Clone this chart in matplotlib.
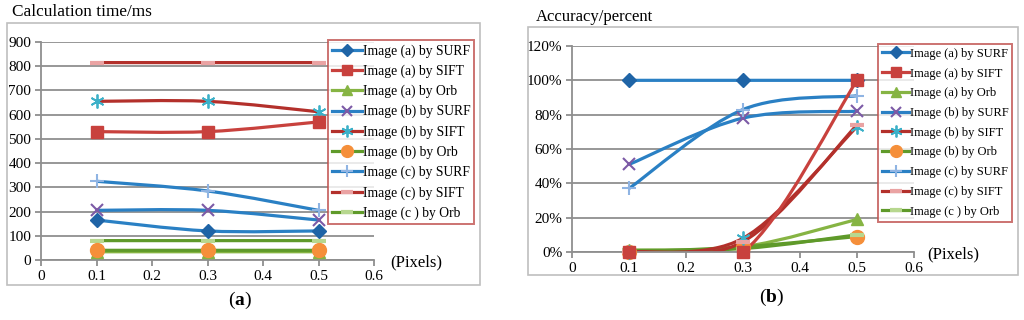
import matplotlib
matplotlib.use('Agg')
import matplotlib.pyplot as plt
import numpy as np
from matplotlib.path import Path
from matplotlib.patches import PathPatch, Rectangle
from matplotlib.lines import Line2D
from matplotlib.ticker import FuncFormatter

plt.rcParams['font.family'] = ['Liberation Serif', 'DejaVu Serif']
plt.rcParams['mathtext.fontset'] = 'custom'
plt.rcParams['mathtext.rm'] = 'Liberation Serif'
plt.rcParams['mathtext.bf'] = 'Liberation Serif:bold'

# Data
pixels = [0.1, 0.3, 0.5]
labels = ['Image (a) by SURF', 'Image (a) by SIFT', 'Image (a) by Orb',
          'Image (b) by SURF', 'Image (b) by SIFT', 'Image (b) by Orb',
          'Image (c) by SURF', 'Image (c) by SIFT', 'Image (c ) by Orb']
x_ticklabels = ['0', '0.1', '0.2', '0.3', '0.4', '0.5', '0.6']

# calculation time (ms)
time_a_surf = [165, 120, 120]
time_a_sift = [530, 530, 570]
time_a_orb = [34, 34, 34]
time_b_surf = [205, 205, 165]
time_b_sift = [655, 655, 612]
time_b_orb = [40, 40, 40]
time_c_surf = [325, 285, 205]
time_c_sift = [815, 815, 815]
time_c_orb = [80, 80, 80]

# accuracy (fraction)
acc_a_surf = [1.00, 1.00, 1.00]
acc_a_sift = [0.00, 0.00, 1.00]
acc_a_orb = [0.01, 0.03, 0.19]
acc_b_surf = [0.51, 0.78, 0.82]
acc_b_sift = [0.00, 0.08, 0.73]
acc_b_orb = [0.00, 0.03, 0.09]
acc_c_surf = [0.37, 0.83, 0.91]
acc_c_sift = [0.00, 0.06, 0.74]
acc_c_orb = [0.01, 0.02, 0.10]

time_series = [time_a_surf, time_a_sift, time_a_orb, time_b_surf, time_b_sift,
               time_b_orb, time_c_surf, time_c_sift, time_c_orb]
acc_series = [acc_a_surf, acc_a_sift, acc_a_orb, acc_b_surf, acc_b_sift,
              acc_b_orb, acc_c_surf, acc_c_sift, acc_c_orb]

# styles: (line colour, marker, marker colour, marker size, marker edge width)
styles = [
    ('#2a80c4', 'D', '#1f64a6', 7, 1),
    ('#c8413d', 's', '#c8413d', 9, 1),
    ('#86b443', '^', '#86b443', 9, 1),
    ('#2a80c4', 'x', '#7c5aa6', 9, 1.5),
    ('#b3302b', (6, 2, 0), '#3cb0c8', 10, 1.3),
    ('#5f9a2a', 'o', '#f58f3a', 10, 1),
    ('#2a80c4', '+', '#8fb4e3', 10, 1.5),
    ('#b3302b', '_', '#eaa3a3', 10, 3),
    ('#5f9a2a', '_', '#b7d78f', 10, 3),
]

W, H = 1024, 320
fig = plt.figure(figsize=(W / 100, H / 100), dpi=100)


def px(x0, y0, x1, y1):
    return [x0 / W, 1 - y1 / H, (x1 - x0) / W, (y1 - y0) / H]


def smooth_path(xs, ys, sx, sy):
    # Excel-like smoothed line: Catmull-Rom converted to cubic Bezier
    p = np.column_stack([np.array(xs) / sx, np.array(ys) / sy])
    n = len(p)
    verts = [p[0]]
    codes = [Path.MOVETO]
    for i in range(n - 1):
        pm = p[i - 1] if i > 0 else p[i]
        pn = p[i + 2] if i + 2 < n else p[i + 1]
        c1 = p[i] + (p[i + 1] - pm) / 6
        c2 = p[i + 1] - (pn - p[i]) / 6
        verts += [c1, c2, p[i + 1]]
        codes += [Path.CURVE4] * 3
    verts = np.array(verts) * [sx, sy]
    return Path(verts, codes)


def draw_panel(ax, series, ymax, ystep, sy, order):
    ax.set_xlim(0, 0.6)
    ax.set_ylim(0, ymax)
    ax.set_xticks(np.arange(0, 0.61, 0.1))
    ax.set_xticklabels(x_ticklabels)
    ax.set_yticks(np.arange(0, ymax + ystep / 2, ystep))
    ax.yaxis.grid(True, color='#8f8f8f', linewidth=1.3)
    ax.set_axisbelow(True)
    for s in ['top', 'right']:
        ax.spines[s].set_visible(False)
    for s in ['left', 'bottom']:
        ax.spines[s].set_color('#8f8f8f')
        ax.spines[s].set_linewidth(1.3)
    ax.tick_params(colors='#8f8f8f', labelcolor='black', labelsize=11,
                   labelfontfamily='Liberation Serif',
                   length=4, width=1.3, direction='out', pad=3)
    for i in order:
        lc, mk, mc, ms, mew = styles[i]
        path = smooth_path(pixels, series[i], 0.6, sy)
        ax.add_patch(PathPatch(path, fill=False, edgecolor=lc, linewidth=2.3,
                               capstyle='butt', zorder=2))
        ax.plot(pixels, series[i], linestyle='none', marker=mk, color=mc,
                markersize=ms, markeredgewidth=mew, zorder=3, clip_on=False)


handles = []
for lc, mk, mc, ms, mew in styles:
    handles.append(Line2D([], [], color=lc, linewidth=2.3, marker=mk,
                          markerfacecolor=mc, markeredgecolor=mc,
                          markersize=ms * 0.85, markeredgewidth=mew))


def add_legend(x, y, size, spacing):
    leg = fig.legend(handles, labels, loc='upper left',
                     bbox_to_anchor=(x / W, 1 - y / H), bbox_transform=fig.transFigure,
                     fontsize=size, frameon=True, fancybox=False, borderaxespad=0,
                     handlelength=2.2, handletextpad=0.05, labelspacing=spacing,
                     borderpad=0.3)
    leg.get_frame().set_edgecolor('#c0504d')
    leg.get_frame().set_linewidth(1.4)
    return leg


# panel borders
for x0, y0, x1, y1 in [(7, 23, 480, 285), (528, 27, 1018, 275)]:
    fig.patches.append(Rectangle((x0 / W, 1 - y1 / H), (x1 - x0) / W, (y1 - y0) / H,
                                 transform=fig.transFigure, fill=False,
                                 edgecolor='#bfbfbf', linewidth=1.2))

# (a) calculation time
ax1 = fig.add_axes(px(41, 42, 374, 260))
draw_panel(ax1, time_series, 900, 100, 900, [7, 4, 1, 6, 3, 0, 8, 2, 5])
add_legend(328, 40, 9.8, 0.5)
fig.text(12 / W, 1 - 12 / H, 'Calculation time/ms', fontsize=12.4, va='center', ha='left')
fig.text(416 / W, 1 - 262 / H, '(Pixels)', fontsize=12, va='center', ha='center')
fig.text(240 / W, 1 - 300 / H, r'($\mathbf{a}$)', fontsize=14, va='center', ha='center')

# (b) accuracy
ax2 = fig.add_axes(px(572, 46, 914, 252))
draw_panel(ax2, acc_series, 1.2, 0.2, 1.2, [0, 3, 6, 2, 5, 8, 4, 7, 1])
ax2.yaxis.set_major_formatter(FuncFormatter(lambda v, p: '%d%%' % round(v * 100)))
add_legend(878, 44, 9.0, 0.62)
fig.text(536 / W, 1 - 17 / H, 'Accuracy/percent', fontsize=12, va='center', ha='left')
fig.text(953 / W, 1 - 254 / H, '(Pixels)', fontsize=12, va='center', ha='center')
fig.text(772 / W, 1 - 297 / H, r'($\mathbf{b}$)', fontsize=14, va='center', ha='center')

fig.savefig('out.png', dpi=100)
